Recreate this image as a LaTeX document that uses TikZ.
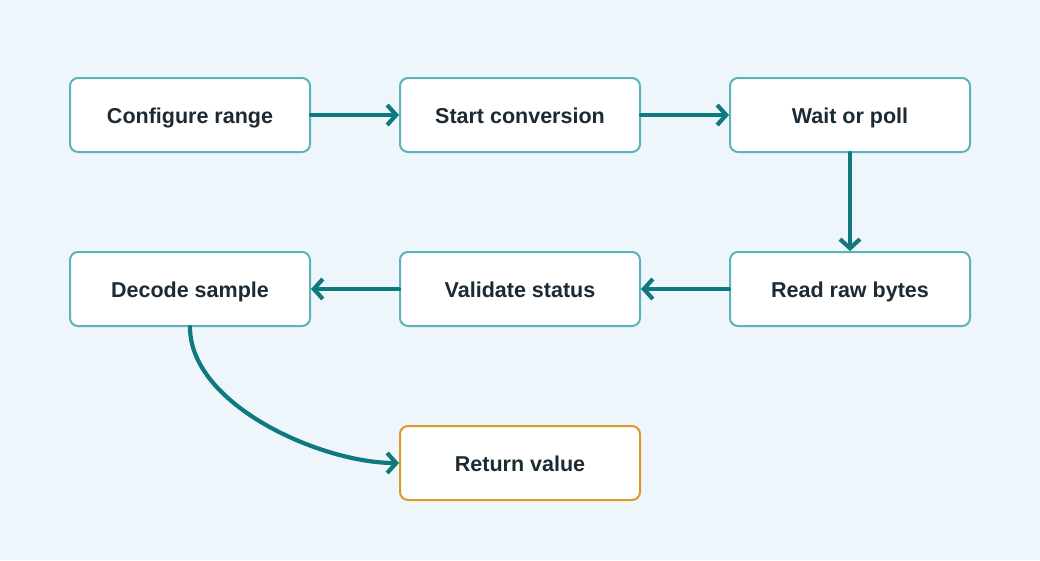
\documentclass[tikz,border=0pt]{standalone}
\usepackage{fontspec}
\setmainfont{Liberation Sans}
\usepackage{xcolor}
\usetikzlibrary{arrows.meta,positioning}
\definecolor{bg}{HTML}{EEF6FC}
\definecolor{frame}{HTML}{5BB3BB}
\definecolor{flow}{HTML}{0E7A7E}
\definecolor{amber}{HTML}{D99A2B}
\definecolor{ink}{HTML}{1C2A33}
\tikzset{
  stepbox/.style={draw=frame, fill=white, line width=2pt, rounded corners=8pt,
    minimum width=240pt, minimum height=74pt, inner sep=0pt,
    text height=20pt, text depth=4pt,
    text=ink, font=\fontsize{21.5}{26}\selectfont\bfseries},
  endbox/.style={stepbox, draw=amber},
  link/.style={draw=flow, line width=4.2pt, line cap=round,
    -{Straight Barb[length=9pt,width=20pt,line width=4.2pt]}}
}
\begin{document}
\begin{tikzpicture}[x=1pt,y=-1pt]
  \useasboundingbox[fill=bg] (0,0) rectangle (1040,560);

  % first row
  \node[stepbox] (range) at (190,115) {Configure range};
  \node[stepbox] (start) at (520,115) {Start conversion};
  \node[stepbox] (wait)  at (850,115) {Wait or poll};

  % second row, right to left
  \node[stepbox] (read)     at (850,289) {Read raw bytes};
  \node[stepbox] (validate) at (520,289) {Validate status};
  \node[stepbox] (decode)   at (190,289) {Decode sample};

  % result
  \node[endbox] (ret) at (520,463) {Return value};

  \draw[link] (range) -- (start);
  \draw[link] (start) -- (wait);
  \draw[link] (wait) -- (read);
  \draw[link] (read) -- (validate);
  \draw[link] (validate) -- (decode);
  \draw[link] (decode.south) to[out=-90,in=180,looseness=0.8] (ret.west);
\end{tikzpicture}
\end{document}
